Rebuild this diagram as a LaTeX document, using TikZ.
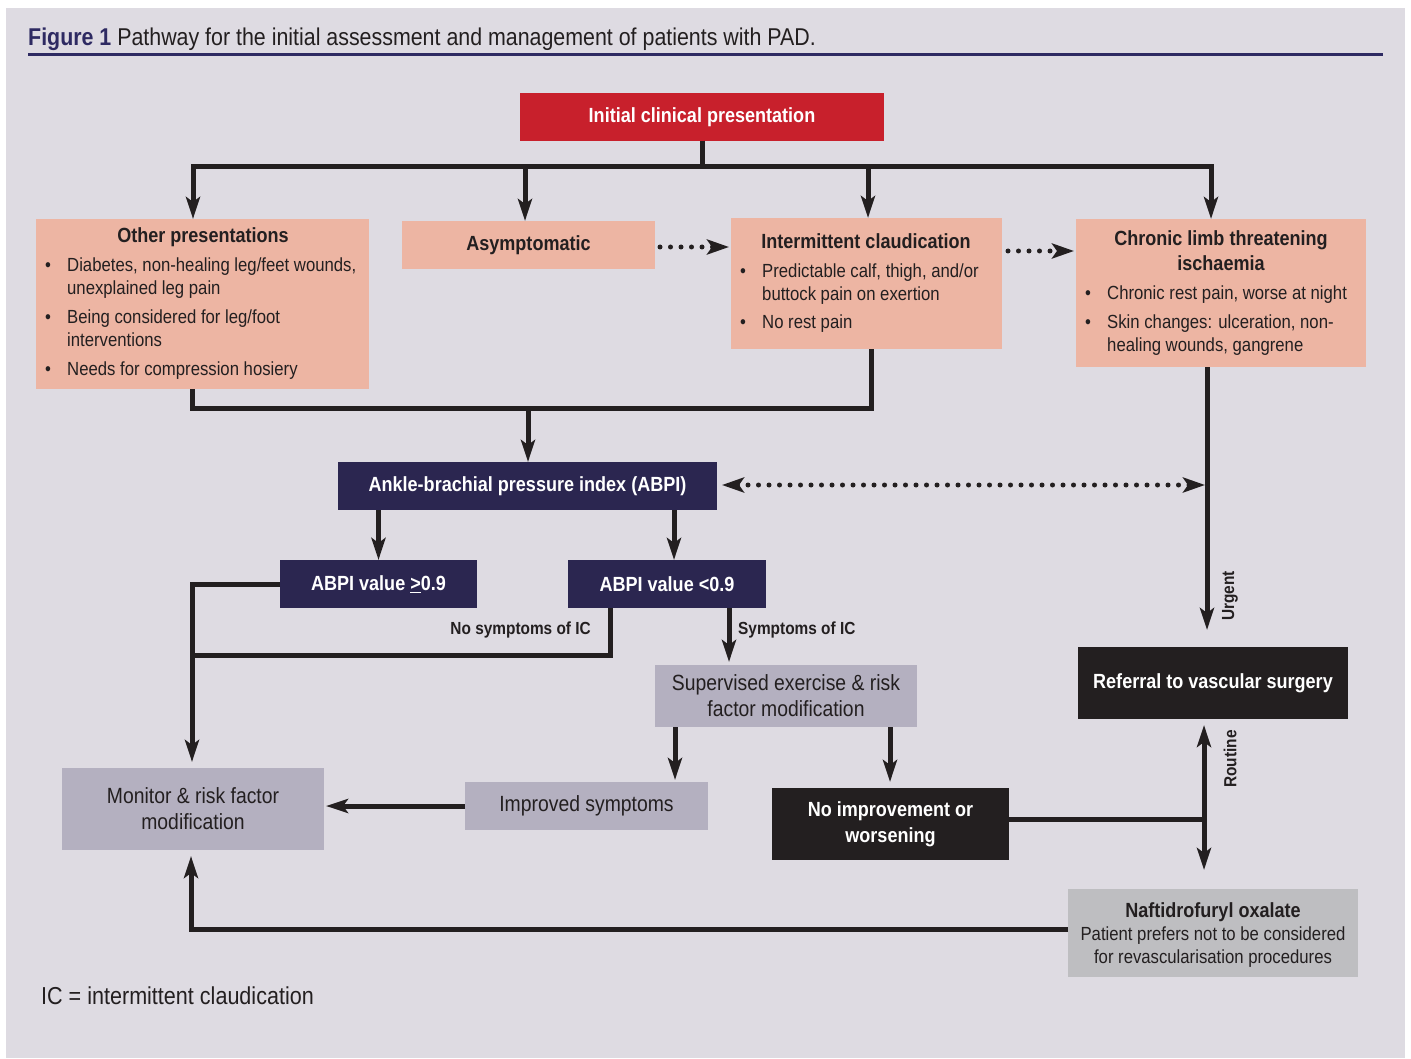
\documentclass[tikz,border=0pt]{standalone}
\usepackage{fontspec}
\setmainfont{Liberation Sans}[FakeStretch=0.88]
\usetikzlibrary{arrows.meta,calc}
\definecolor{panel}{HTML}{DEDBE2}
\definecolor{salmon}{HTML}{EDB5A3}
\definecolor{navy}{HTML}{2B2650}
\definecolor{redbox}{HTML}{C8202C}
\definecolor{lav}{HTML}{B4B0C0}
\definecolor{nafc}{HTML}{BEBEC1}
\definecolor{ink}{HTML}{231F20}
\definecolor{blackbox}{HTML}{231F20}
\definecolor{titlenavy}{HTML}{2E2A62}
\newcommand\fbody{\fontsize{19}{23}\selectfont}
\newcommand\flav{\fontsize{22}{26}\selectfont}
\newcommand\fhead{\bfseries\fontsize{20.5}{25}\selectfont}
\newcommand\flab{\bfseries\fontsize{17.5}{20}\selectfont}
\newcommand\ftitle{\fontsize{24.3}{28}\selectfont}
\newcommand\fnote{\fontsize{24.5}{28}\selectfont}
\newcommand\mybul{\makebox[22pt][l]{\textbullet}}
\newcommand\mybulind{\hspace*{22pt}}
\begin{document}
\begin{tikzpicture}[x=1pt,y=-1pt,
 bx/.style={inner sep=0pt, outer sep=0pt, anchor=north west, align=center},
 hd/.style={inner sep=0pt, font=\fhead, text=ink},
 lst/.style={inner sep=0pt, anchor=north west, align=left, font=\fbody, text=ink},
 ln/.style={draw=ink, line width=5pt},
 arr/.style={ln, -{Stealth[length=22pt,width=14pt,inset=5pt]}},
 dots/.style={draw=ink, line width=5pt, line cap=round, dash pattern=on 0pt off 10.5pt},
 darr/.style={dots, -{Stealth[length=22pt,width=15pt,inset=5pt]}},
 dboth/.style={dots, {Stealth[length=22pt,width=15pt,inset=5pt]}-{Stealth[length=22pt,width=15pt,inset=5pt]}},
 lab/.style={inner sep=0pt, font=\flab, text=ink}]
\useasboundingbox (0,0) rectangle (1411,1059);
\fill[white] (0,0) rectangle (1411,1059);
\fill[panel] (6,8) rectangle (1405,1058);

% title
\node[anchor=base west, inner sep=0pt, font=\ftitle] (title) at (28,46) {\textcolor{titlenavy}{\bfseries Figure 1} \textcolor{ink}{Pathway for the initial assessment and management of patients with PAD.}};
\draw[titlenavy, line width=3pt] ($(title.base west)+(0,9)$) -- ++(1355,0);

% boxes
\node[bx, fill=redbox, minimum width=364pt, minimum height=48pt, text=white, font=\fhead] (init) at (520,93) {Initial clinical presentation};
\node[bx, fill=salmon, minimum width=333pt, minimum height=170pt] (other) at (36,219) {};
\node[bx, fill=salmon, minimum width=253pt, minimum height=48pt, font=\fhead, text=ink] (asym) at (402,221) {Asymptomatic};
\node[bx, fill=salmon, minimum width=271pt, minimum height=131pt] (ic) at (731,218) {};
\node[bx, fill=salmon, minimum width=290pt, minimum height=148pt] (clti) at (1076,219) {};
\node[bx, fill=navy, minimum width=379pt, minimum height=48pt, text=white, font=\fhead] (abpi) at (338,462) {Ankle-brachial pressure index (ABPI)};
\node[bx, fill=navy, minimum width=197pt, minimum height=48pt, text=white, font=\fhead] (ge) at (280,560) {ABPI value \underline{>}0.9};
\node[bx, fill=navy, minimum width=198pt, minimum height=48pt, text=white, font=\fhead] (lt) at (568,560) {ABPI value <0.9};
\node[bx, fill=lav, minimum width=262pt, minimum height=62pt, text=ink, font=\flav] (sup) at (655,665) {Supervised exercise \& risk\\factor modification};
\node[bx, fill=lav, minimum width=262pt, minimum height=82pt, text=ink, font=\flav] (mon) at (62,768) {Monitor \& risk factor\\modification};
\node[bx, fill=lav, minimum width=243pt, minimum height=48pt, text=ink, font=\flav] (imp) at (465,782) {Improved symptoms};
\node[bx, fill=blackbox, minimum width=237pt, minimum height=72pt, text=white, font=\fhead] (noimp) at (772,788) {No improvement or\\[1pt]worsening};
\node[bx, fill=blackbox, minimum width=270pt, minimum height=72pt, text=white, font=\fhead] (ref) at (1078,647) {Referral to vascular surgery};
\node[bx, fill=nafc, minimum width=290pt, minimum height=88pt] (naf) at (1068,889) {};

% texts inside composite boxes
\node[hd, anchor=base] (otherh) at (203,243) {Other presentations};
\node[lst] (otherl) at (45,255) {\strut\mybul Diabetes, non-healing leg/feet wounds,\\ \mybulind unexplained leg pain\\[6pt]\mybul Being considered for leg/foot\\ \mybulind interventions\\[6pt]\mybul Needs for compression hosiery};
\node[hd, anchor=base] (ich) at (866,249) {Intermittent claudication};
\node[lst] (icl) at (740,261) {\strut\mybul Predictable calf, thigh, and/or\\ \mybulind buttock pain on exertion\\[5pt]\mybul No rest pain};
\node[hd, anchor=north, align=center] (cltih) at (1221,227.5) {\strut Chronic limb threatening\\ischaemia};
\node[lst] (cltil) at (1085,283) {\strut\mybul Chronic rest pain, worse at night\\[6pt]\mybul Skin changes: ulceration, non-\\ \mybulind healing wounds, gangrene};
\node[hd, anchor=base] (nafh) at (1213,917) {Naftidrofuryl oxalate};
\node[inner sep=0pt, anchor=north, align=center, font=\fbody, text=ink] (nafl) at (1213,924) {\strut Patient prefers not to be considered\\for revascularisation procedures};

% labels
\node[lab, anchor=base east] (nosym) at (591,634) {No symptoms of IC};
\node[lab, anchor=base west] (sym) at (738,634) {Symptoms of IC};
\node[lab, rotate=90] (urg) at (1230,596) {Urgent};
\node[lab, rotate=90] (rout) at (1230,759) {Routine};
\node[anchor=base west, inner sep=0pt, font=\fnote, text=ink] (note) at (41,1004) {IC = intermittent claudication};

% connectors
\coordinate (b1) at (193,167);
\coordinate (b2) at (525,167);
\coordinate (b3) at (868,167);
\coordinate (b4) at (1211,167);
\draw[arr] (init.south) |- (b1) -- (b1 |- other.north);
\draw[arr] (init.south) |- (b2) -- (b2 |- asym.north);
\draw[arr] (init.south) |- (b3) -- (b3 |- ic.north);
\draw[arr] (init.south) |- (b4) -- (b4 |- clti.north);

\draw[darr] ($(asym.east)+(5,2)$) -- ($(ic.west |- asym.east)+(-2,2)$);
\draw[darr] ($(ic.east)+(6,-32.5)$) -- ($(clti.west |- ic.east)+(-2,-32.5)$);

\coordinate (m1) at (528,408);
\draw[ln] ($(other.south)+(-10.5,0)$) |- (m1) -| ($(ic.south)+(4.5,0)$);
\draw[arr] (m1) -- (m1 |- abpi.north);

\draw[dboth] ($(abpi.east)+(5,-1)$) -- ($(abpi.east -| clti.south)+(-16,-1)$);
\draw[arr] ($(clti.south)+(-14,0)$) -- ($(clti.south |- ref.north)+(-14,-17)$);

\draw[arr] (abpi.south -| ge.north) -- (ge.north);
\draw[arr] ($(abpi.south -| lt.north)+(7,0)$) -- ($(lt.north)+(7,0)$);

\draw[arr] (ge.west) -| ($(mon.north)+(-1,-6)$);
\coordinate (ns) at (192,655);
\draw[ln] ($(lt.south)+(-57,0)$) |- (ns);
\draw[arr] ($(lt.south)+(62,0)$) -- ($(lt.south |- sup.north)+(62,-3)$);

\draw[arr] ($(sup.south)+(-111,0)$) -- ($(sup.south |- imp.north)+(-111,-2)$);
\draw[arr] ($(sup.south)+(104,0)$) -- ($(sup.south |- noimp.north)+(104,-6)$);
\draw[arr] (imp.west) -- ($(mon.east |- imp.west)+(2,0)$);

\coordinate (r1) at (1204,819);
\draw[ln] (noimp.east |- r1) -- (r1);
\draw[arr] (r1) -- ($(r1 |- ref.south)+(0,6)$);
\draw[arr] (r1) -- ($(r1 |- naf.north)+(0,-19)$);
\draw[arr] ($(naf.west)+(0,-4)$) -| ($(mon.south)+(-2,6)$);
\end{tikzpicture}
\end{document}
